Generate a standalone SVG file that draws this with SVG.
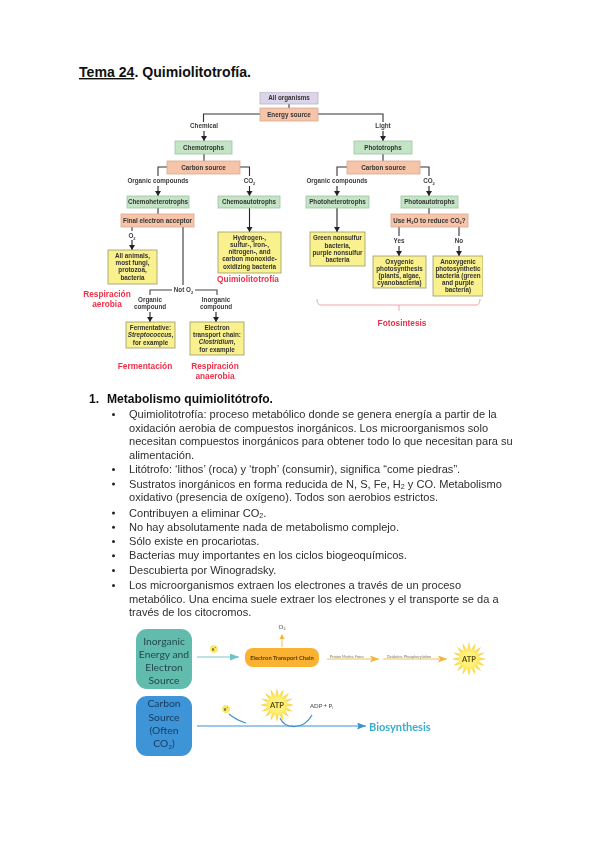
<svg xmlns="http://www.w3.org/2000/svg" width="599" height="848" viewBox="0 0 599 848">
<style>
text{font-family:"Liberation Sans",Arial,sans-serif}
.body{font-size:11.07px;fill:#2e2e2e}
.bu{fill:#222}
.title{font-size:14.1px;font-weight:bold;fill:#111}
.h1{font-size:12.1px;font-weight:bold;fill:#111}
.l{font-size:6.3px;font-weight:bold;fill:#3a3a3a;text-anchor:middle}
.lb{font-size:6.3px;font-weight:bold;fill:#333;text-anchor:middle}
.red{font-size:8.3px;font-weight:bold;fill:#ec3049;text-anchor:middle}
.p{fill:#dcd4e8;stroke:#b9b3c6;stroke-width:.8}
.o{fill:#f6c4a8;stroke:#d9a88e;stroke-width:.8}
.g{fill:#c4e4c6;stroke:#9cc3a4;stroke-width:.8}
.y{fill:#f9f08e;stroke:#9a9a6a;stroke-width:.8}
.c{fill:none;stroke:#333;stroke-width:1.1}
.a{fill:none;stroke:#222;stroke-width:1.1;marker-end:url(#ah)}
.bt{font-family:Lato,"Open Sans",sans-serif;font-size:10.3px;fill:#23494f;text-anchor:middle}
.bc{fill:#173a5e}
.etc{font-family:Lato,"Open Sans",sans-serif;font-size:5.8px;font-weight:bold;fill:#5a3a00;text-anchor:middle}
.s{font-family:Lato,"Open Sans",sans-serif;font-size:3.8px;fill:#776;text-anchor:middle}
.t{font-family:Lato,"Open Sans",sans-serif;font-size:6px;fill:#444}
.e{font-family:Lato,"Open Sans",sans-serif;font-size:5px;fill:#444;text-anchor:middle}
.atp{font-family:Lato,"Open Sans",sans-serif;font-size:7.500px;font-weight:bold;fill:#5a4a10;text-anchor:middle}
</style>
<defs>
<marker id="ah" markerUnits="userSpaceOnUse" markerWidth="6" markerHeight="7" refX="5" refY="3" orient="auto"><path d="M0 0L5 3L0 6Z" fill="#222"/></marker>
<marker id="ot" markerUnits="userSpaceOnUse" markerWidth="10" markerHeight="8" refX="9" refY="3.500" orient="auto"><path d="M0 0L9 3.500L0 7L2 3.500Z" fill="#f2b63a"/></marker>
<marker id="tl" markerUnits="userSpaceOnUse" markerWidth="10" markerHeight="8" refX="9" refY="3.500" orient="auto"><path d="M0 0L9 3.500L0 7Z" fill="#6fc3c6"/></marker>
<marker id="bl" markerUnits="userSpaceOnUse" markerWidth="10" markerHeight="8" refX="9" refY="3.500" orient="auto"><path d="M0 0L9 3.500L0 7L1.500 3.500Z" fill="#3d93c9"/></marker>
<radialGradient id="sun"><stop offset=".4" stop-color="#fff27a"/><stop offset="1" stop-color="#f6c92c"/></radialGradient>
<polygon id="star" fill="url(#sun)" points="17,0 9.3,1.9 15.7,6.5 7.9,5.3 12,12 5.3,7.9 6.5,15.7 1.9,9.3 0,17 -1.9,9.3 -6.5,15.7 -5.3,7.9 -12,12 -7.9,5.3 -15.7,6.5 -9.3,1.9 -17,0 -9.3,-1.9 -15.7,-6.5 -7.9,-5.3 -12,-12 -5.3,-7.9 -6.5,-15.7 -1.9,-9.3 0,-17 1.9,-9.3 6.5,-15.7 5.3,-7.9 12,-12 7.9,-5.3 15.7,-6.5 9.3,-1.9"/>
<filter id="soft" x="0" y="0" width="1" height="1"><feGaussianBlur stdDeviation=".35"/></filter>
<filter id="soft2" x="0" y="0" width="1" height="1"><feGaussianBlur stdDeviation=".25"/></filter>
</defs>
<rect width="599" height="848" fill="#fff"/>
<text id="title" class="title" x="79" y="77"><tspan text-decoration="underline">Tema 24</tspan>. Quimiolitotrofía.</text>

<g filter="url(#soft)">
<g id="connectors">
<path class="c" d="M289 104V108M204 154V161M383 154V161M158 208V214M429 208V214"/>
<path class="c" d="M260 114H203.500V122M318 114H383V122M167 167H158V176M240 167H249.500V176M347 167H337V176M420 167H429V176"/>
<path class="a" d="M204 131V141"/><path class="a" d="M383 131V141"/>
<path class="a" d="M158 186V196"/><path class="a" d="M249.500 186V196"/>
<path class="a" d="M337 186V196"/><path class="a" d="M429 186V196"/>
<path class="a" d="M249.500 208V232"/><path class="a" d="M337 208V232"/>
<path class="a" d="M132 240V250"/><path class="a" d="M150 312V322"/><path class="a" d="M216 312V322"/>
<path class="a" d="M399 246V256"/><path class="a" d="M459 246V256"/>
<path class="c" d="M132 227V231M399 227V236M459 227V236"/>
<path class="c" style="stroke:#555;stroke-width:1.300" d="M183 227V285"/>
<path class="c" style="stroke:#444" d="M172 290H150V295M195 290H217V295"/>
<path fill="none" stroke="#f08a98" stroke-width=".8" d="M317 299Q317 305 321 305H476Q480 305 480 299M399 305V311"/>
</g>

<g id="n-all"><rect class="p" x="260" y="92" width="58" height="12"/><text class="lb" x="289" y="100">All organisms</text></g>
<g id="n-energy"><rect class="o" x="260" y="108" width="58" height="13"/><text class="lb" x="289" y="116.700">Energy source</text></g>
<g id="n-chemotrophs"><rect class="g" x="175" y="141" width="57" height="13"/><text class="lb" x="203.500" y="149.700">Chemotrophs</text></g>
<g id="n-phototrophs"><rect class="g" x="354" y="141" width="58" height="13"/><text class="lb" x="383" y="149.700">Phototrophs</text></g>
<g id="n-carbon1"><rect class="o" x="167" y="161" width="73" height="13"/><text class="lb" x="203.500" y="169.700">Carbon source</text></g>
<g id="n-carbon2"><rect class="o" x="347" y="161" width="73" height="13"/><text class="lb" x="383.500" y="169.700">Carbon source</text></g>
<g id="n-chemohet"><rect class="g" x="127" y="196" width="62" height="12"/><text class="lb" x="158" y="204.200">Chemoheterotrophs</text></g>
<g id="n-chemoaut"><rect class="g" x="218" y="196" width="62" height="12"/><text class="lb" x="249" y="204.200">Chemoautotrophs</text></g>
<g id="n-photohet"><rect class="g" x="306" y="196" width="63" height="12"/><text class="lb" x="337.500" y="204.200">Photoheterotrophs</text></g>
<g id="n-photoaut"><rect class="g" x="401" y="196" width="57" height="12"/><text class="lb" x="429.500" y="204.200">Photoautotrophs</text></g>
<g id="n-final"><rect class="o" x="121" y="214" width="73" height="13"/><text class="lb" x="157.500" y="222.700">Final electron acceptor</text></g>
<g id="n-use"><rect class="o" x="391" y="214" width="77" height="13"/><text class="lb" x="429.500" y="222.700">Use H<tspan font-size="4" dy="1.500">2</tspan><tspan dy="-1.500">O to reduce CO</tspan><tspan font-size="4" dy="1.500">2</tspan><tspan dy="-1.500">?</tspan></text></g>
<g id="n-animals"><rect class="y" x="108" y="250" width="49" height="34"/><text class="lb" x="132.500" y="258">All animals,</text><text class="lb" x="132.500" y="265">most fungi,</text><text class="lb" x="132.500" y="272">protozoa,</text><text class="lb" x="132.500" y="279.500">bacteria</text></g>
<g id="n-hydrogen"><rect class="y" x="218" y="232" width="63" height="41"/><text class="lb" x="249.500" y="240">Hydrogen-,</text><text class="lb" x="249.500" y="247">sulfur-, iron-,</text><text class="lb" x="249.500" y="254">nitrogen-, and</text><text class="lb" x="249.500" y="261">carbon monoxide-</text><text class="lb" x="249.500" y="268.500">oxidizing bacteria</text></g>
<g id="n-ferment"><rect class="y" x="126" y="322" width="49" height="26"/><text class="lb" x="150.500" y="330">Fermentative:</text><text class="lb" x="150.500" y="337"><tspan font-style="italic">Streptococcus</tspan>,</text><text class="lb" x="150.500" y="344.500">for example</text></g>
<g id="n-electron"><rect class="y" x="190" y="322" width="54" height="33"/><text class="lb" x="217" y="330">Electron</text><text class="lb" x="217" y="337">transport chain:</text><text class="lb" x="217" y="344"><tspan font-style="italic">Clostridium</tspan>,</text><text class="lb" x="217" y="351.500">for example</text></g>
<g id="n-green"><rect class="y" x="310" y="232" width="55" height="34"/><text class="lb" x="337.500" y="240">Green nonsulfur</text><text class="lb" x="337.500" y="247.500">bacteria,</text><text class="lb" x="337.500" y="254.500">purple nonsulfur</text><text class="lb" x="337.500" y="261.500">bacteria</text></g>
<g id="n-oxygenic"><rect class="y" x="373" y="256" width="53" height="32"/><text class="lb" x="399.500" y="264">Oxygenic</text><text class="lb" x="399.500" y="271">photosynthesis</text><text class="lb" x="399.500" y="278">(plants, algae,</text><text class="lb" x="399.500" y="285">cyanobacteria)</text></g>
<g id="n-anoxygenic"><rect class="y" x="433" y="256" width="50" height="40"/><text class="lb" x="458" y="264">Anoxygenic</text><text class="lb" x="458" y="271">photosynthetic</text><text class="lb" x="458" y="278">bacteria (green</text><text class="lb" x="458" y="285">and purple</text><text class="lb" x="458" y="292">bacteria)</text></g>

<g id="labels">
<text class="l" x="204" y="128">Chemical</text>
<text class="l" x="383" y="128">Light</text>
<text class="l" x="158" y="183">Organic compounds</text>
<text class="l" x="249.500" y="183">CO<tspan font-size="4" dy="1.500">2</tspan></text>
<text class="l" x="337" y="183">Organic compounds</text>
<text class="l" x="429" y="183">CO<tspan font-size="4" dy="1.500">2</tspan></text>
<text class="l" x="132" y="238">O<tspan font-size="4" dy="1.500">2</tspan></text>
<text class="l" x="183.500" y="292">Not O<tspan font-size="4" dy="1.500">2</tspan></text>
<text class="l" x="150" y="302">Organic</text><text class="l" x="150" y="309">compound</text>
<text class="l" x="216" y="302">Inorganic</text><text class="l" x="216" y="309">compound</text>
<text class="l" x="399" y="243">Yes</text>
<text class="l" x="459" y="243">No</text>
<text class="red" x="107" y="297">Respiración</text><text class="red" x="107" y="307">aerobia</text>
<text class="red" x="248" y="282">Quimiolitotrofía</text>
<text class="red" x="145" y="369">Fermentación</text>
<text class="red" x="215" y="369">Respiración</text><text class="red" x="215" y="379">anaerobia</text>
<text class="red" x="402" y="326">Fotosintesis</text>
</g>
</g>

<g id="text-body" filter="url(#soft2)">
<text class="h1" x="89" y="403">1.</text><text class="h1" x="107" y="403">Metabolismo quimiolitótrofo.</text>
<g id="bullets" class="bu"><circle cx="113.500" cy="414.500" r="1.500"/><circle cx="113.500" cy="469.500" r="1.500"/><circle cx="113.500" cy="484" r="1.500"/><circle cx="113.500" cy="513" r="1.500"/><circle cx="113.500" cy="527.200" r="1.500"/><circle cx="113.500" cy="541.500" r="1.500"/><circle cx="113.500" cy="555.800" r="1.500"/><circle cx="113.500" cy="570.500" r="1.500"/><circle cx="113.500" cy="585.500" r="1.500"/></g>
<text class="body" x="129" y="418">Quimiolitotrofía: proceso metabólico donde se genera energía a partir de la</text>
<text class="body" x="129" y="431.700">oxidación aerobia de compuestos inorgánicos. Los microorganismos solo</text>
<text class="body" x="129" y="445.400">necesitan compuestos inorgánicos para obtener todo lo que necesitan para su</text>
<text class="body" x="129" y="459">alimentación.</text>
<text class="body" x="129" y="473">Litótrofo: ‘lithos’ (roca) y ‘troph’ (consumir), significa “come piedras”.</text>
<text class="body" x="129" y="487.500">Sustratos inorgánicos en forma reducida de N, S, Fe, H<tspan font-size="7.200" dy="1.500">2</tspan><tspan dy="-1.500"> y CO. Metabolismo</tspan></text>
<text class="body" x="129" y="501.200">oxidativo (presencia de oxígeno). Todos son aerobios estrictos.</text>
<text class="body" x="129" y="516.500">Contribuyen a eliminar CO<tspan font-size="7.200" dy="1.500">2</tspan><tspan dy="-1.500">.</tspan></text>
<text class="body" x="129" y="530.700">No hay absolutamente nada de metabolismo complejo.</text>
<text class="body" x="129" y="545">Sólo existe en procariotas.</text>
<text class="body" x="129" y="559.300">Bacterias muy importantes en los ciclos biogeoquímicos.</text>
<text class="body" x="129" y="574">Descubierta por Winogradsky.</text>
<text class="body" x="129" y="589">Los microorganismos extraen los electrones a través de un proceso</text>
<text class="body" x="129" y="602.500">metabólico. Una encima suele extraer los electrones y el transporte se da a</text>
<text class="body" x="129" y="616.200">través de los citocromos.</text>
</g>

<g filter="url(#soft)">
<g id="connectors-bottom">
<path d="M197 657H239" fill="none" stroke="#7cc8c9" stroke-width="1.200" marker-end="url(#tl)"/>
<path d="M282 647V636" fill="none" stroke="#f2b63a" stroke-width=".9"/>
<path d="M279.500 639L282 634L284.500 639Z" fill="#f2b63a"/>
<path d="M327 659H379" fill="none" stroke="#f2c060" stroke-width="1" marker-end="url(#ot)"/>
<path d="M383 659H447" fill="none" stroke="#f2c060" stroke-width="1" marker-end="url(#ot)"/>
<path d="M197 726H366" fill="none" stroke="#3d93c9" stroke-width="1.100" marker-end="url(#bl)"/>
<path d="M229 714Q236 720 246 723" fill="none" stroke="#3d93c9" stroke-width="1.100"/>
<path d="M280 718Q284 727 295 726.500Q306 726 312 715" fill="none" stroke="#3d93c9" stroke-width="1.200"/>
</g>
<g id="n-inorganic"><rect x="136" y="629" width="56" height="60" rx="11" fill="#62bcae"/>
<text class="bt" x="164" y="644.500">Inorganic</text><text class="bt" x="164" y="657.500">Energy and</text><text class="bt" x="164" y="670.500">Electron</text><text class="bt" x="164" y="683.500">Source</text></g>
<g id="n-carbon-src"><rect x="136" y="696" width="56" height="60" rx="11" fill="#3e94d6"/>
<text class="bt bc" x="164" y="707">Carbon</text><text class="bt bc" x="164" y="720.500">Source</text><text class="bt bc" x="164" y="733.500">(Often</text><text class="bt bc" x="164" y="746.500">CO<tspan font-size="6.500" dy="2">2</tspan><tspan dy="-2">)</tspan></text></g>
<g id="n-etc"><rect x="245" y="648" width="74" height="19" rx="8" fill="#f9b233"/><text class="etc" x="282" y="659.500">Electron Transport Chain</text></g>
<g id="n-e1"><circle cx="214" cy="649" r="4" fill="#fbe96a"/><text class="e" x="214" y="651">e⁻</text></g>
<g id="n-e2"><circle cx="226" cy="709" r="4" fill="#fbe96a"/><text class="e" x="226" y="711">e⁻</text></g>
<g id="n-atp1"><use href="#star" x="277" y="705"/><text class="atp" x="277" y="708">ATP</text></g>
<g id="n-atp2"><use href="#star" x="469" y="659"/><text class="atp" x="469" y="662">ATP</text></g>
<g id="labels-bottom">
<text class="t" x="282" y="629" text-anchor="middle">O<tspan font-size="3.500" dy="1">2</tspan></text>
<text class="s" x="347" y="658">Proton Motive Force</text>
<text class="s" x="409" y="658">Oxidative Phosphorylation</text>
<text class="t" x="310" y="708">ADP + P<tspan font-size="3.500" dy="1">i</tspan></text>
<text x="369" y="730.500" style="font-family:Lato,'Open Sans',sans-serif;font-size:11px;font-weight:bold;fill:#35aed0">Biosynthesis</text>
</g>
</g>
</svg>
